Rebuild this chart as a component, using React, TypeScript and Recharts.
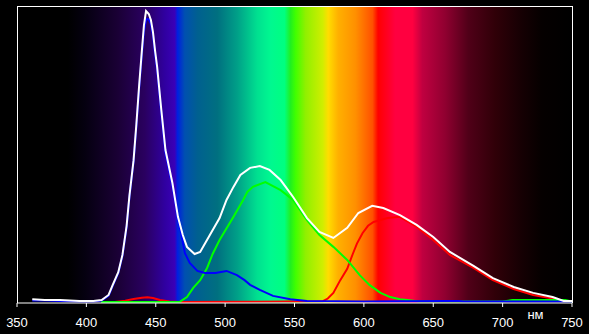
import { LineChart, Line, XAxis, YAxis } from 'recharts'

// wavelength (nm) and relative level for each trace
const whiteNm = [361, 370, 381, 395, 405, 411, 416, 419, 423, 426, 429, 431, 434, 436, 438, 440, 441.5, 443, 445, 446.5, 448, 449.5, 451, 454, 457, 462, 466, 469.5, 472.5, 478, 482, 489, 496, 501, 506, 511, 518, 525, 532, 540, 549, 559, 568, 578, 588, 596, 606, 614, 626, 638, 650, 662, 679, 693, 708, 722, 736, 744, 750]
const whiteLevel = [1.3, 1.0, 1.0, 0.7, 0.7, 1.0, 2.7, 6.1, 10.4, 16.2, 26, 36, 48, 60, 73, 85, 93.6, 98.3, 97.3, 95.3, 91.2, 85, 79.5, 65, 51.5, 40.4, 29, 22.9, 18.9, 16.5, 17.2, 22.9, 28.6, 34.7, 39.1, 43.1, 45.5, 46.1, 44.8, 41.4, 35.7, 28.6, 23.9, 21.9, 25.3, 30.3, 32.7, 32.0, 29.6, 26.3, 22.2, 17.2, 12.5, 8.4, 5.4, 3.4, 2.0, 0.7, 0.7]

const blueNm = [361, 370, 381, 395, 405, 411, 416, 419, 423, 426, 429, 431, 434, 436, 438, 440, 441.5, 443, 445, 446.5, 448, 449.5, 451, 454, 457, 462, 466, 467.5, 471, 474.5, 480, 485.5, 493, 501, 508.5, 514, 518, 525, 534.5, 547, 559, 600, 660, 668, 672, 750]
const blueLevel = [0.8, 0.8, 0.7, 0.5, 0.5, 0.8, 2.4, 5.8, 10, 15.8, 25.5, 35.5, 47.5, 59, 72, 83.5, 91.5, 95.5, 95.5, 94, 90, 84, 78.5, 64, 50.5, 39.5, 28.5, 25.3, 16.8, 13.5, 10.8, 10.1, 10.1, 10.8, 9.4, 7.7, 6.1, 4.4, 2.4, 1.3, 0.7, 0.5, 0.7, 0.7, 0.5, 0.5]

const greenNm = [410.5, 467, 472.5, 477, 482, 487, 491, 496, 506, 513, 516, 520, 529, 540, 549, 559, 568, 578, 588, 597, 604, 612, 619, 626, 631, 640, 700, 707, 745, 750]
const greenLevel = [0.3, 0.3, 2.0, 5.1, 7.7, 11.8, 16.5, 21.2, 29, 34.7, 37.4, 39.1, 40.7, 38, 34.7, 27.9, 22.9, 18.9, 14.5, 9.4, 6.1, 3.4, 2.0, 1.3, 1.0, 0.5, 0.5, 1.0, 1.0, 0.5]

const redNm = [420.5, 428, 434, 440, 444, 448, 453, 460, 467, 570.5, 574, 578, 583, 588, 592, 595, 599, 603, 607, 617, 626, 638, 650, 662, 679, 693, 708, 722, 736, 744, 750]
const redLevel = [0.3, 0.8, 1.35, 1.8, 1.9, 1.7, 1.0, 0.5, 0.3, 0.6, 1.5, 3.4, 7.7, 11.5, 16.5, 20, 23.5, 26, 27.3, 28.6, 29, 25.6, 21.2, 16.2, 11.8, 7.7, 4.7, 2.7, 1.5, 0.7, 0.7]

const xTicks = [350, 400, 450, 500, 550, 600, 650, 700, 750]

const toPoints = (nm: number[], level: number[]) => nm.map((x, i) => ({ nm: x, v: level[i] }))

// visible spectrum behind the plot
const SPECTRUM =
  'linear-gradient(to right, #000000 0%, #000000 9%, #050010 12.1%, #1a0035 18%, #2a0060 22.9%, #3000a0 26.5%, #3a00b8 28.3%, #0020e0 28.8%, #0050b0 30.1%, #006090 32.4%, #007080 36%, #00a088 39.6%, #00e090 43.2%, #00f890 45.6%, #00ff80 48.1%, #20f020 49.2%, #40ff00 50.1%, #90f000 51.9%, #d0ee00 55%, #ffdd00 56%, #ffb000 57.8%, #ff9000 60.9%, #ff5000 64%, #ff0000 65%, #ff0040 68.1%, #ff0040 71.2%, #c00040 73%, #900030 77.1%, #500018 81.3%, #300008 86.1%, #150003 91%, #050000 94.6%, #000000 100%)'

const FONT = "Arial, 'Liberation Sans', sans-serif"

export default function App() {
  const white = toPoints(whiteNm, whiteLevel)
  const blue = toPoints(blueNm, blueLevel)
  const green = toPoints(greenNm, greenLevel)
  const red = toPoints(redNm, redLevel)

  return (
    <div style={{ position: 'absolute', left: 0, top: 0, width: 589, height: 334, background: '#000', overflow: 'hidden' }}>
      <div
        style={{
          position: 'absolute',
          left: 17,
          top: 6,
          width: 556,
          height: 297,
          boxSizing: 'border-box',
          border: '1px solid #fff',
          borderBottom: 'none',
          background: SPECTRUM,
        }}
      />
      <LineChart
        width={589}
        height={334}
        margin={{ top: 6, right: 17, bottom: 0, left: 17 }}
        style={{ position: 'absolute', left: 0, top: 0 }}
      >
        <XAxis
          dataKey="nm"
          type="number"
          domain={[350, 750]}
          ticks={xTicks}
          allowDataOverflow
          height={31}
          axisLine={{ stroke: '#fff', strokeWidth: 1 }}
          tickLine={{ stroke: '#fff' }}
          tickSize={4}
          tickMargin={11}
          tick={{ fill: '#fff', fontSize: 13, fontFamily: FONT }}
        />
        <YAxis hide domain={[0, 100]} allowDataOverflow />
        <Line data={red} dataKey="v" stroke="#ff0000" strokeWidth={2} dot={false} isAnimationActive={false} />
        <Line data={green} dataKey="v" stroke="#00ff00" strokeWidth={2} dot={false} isAnimationActive={false} />
        <Line data={blue} dataKey="v" stroke="#0000ff" strokeWidth={2} dot={false} isAnimationActive={false} />
        <Line data={white} dataKey="v" stroke="#ffffff" strokeWidth={2} dot={false} isAnimationActive={false} />
      </LineChart>
      <svg width={589} height={334} style={{ position: 'absolute', left: 0, top: 0, pointerEvents: 'none' }}>
        <text x={535.5} y={318.5} textAnchor="middle" fill="#fff" fontSize={13} fontFamily={FONT}>
          нм
        </text>
      </svg>
    </div>
  )
}
